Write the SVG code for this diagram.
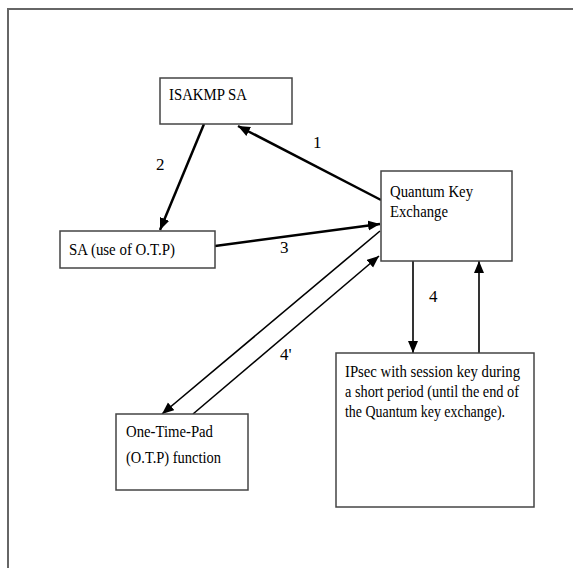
<svg xmlns="http://www.w3.org/2000/svg" width="573" height="568" viewBox="0 0 573 568">
<style>
.box{fill:#fff;stroke:#444;stroke-width:1.5}
.t{font-family:"Liberation Serif","Times New Roman",Times,"DejaVu Serif",serif;font-size:17px;fill:#000}
.c{stroke:#000;fill:none}
.thick{stroke-width:2.5}
.thin{stroke-width:1.6}
</style>
<defs>
<marker id="ah" markerUnits="userSpaceOnUse" markerWidth="13" markerHeight="11" refX="12" refY="5" orient="auto">
<path d="M0,0 L12,5 L0,10 z" fill="#000"/>
</marker>
</defs>
<rect width="573" height="568" fill="#fff"/>
<rect x="8" y="9" width="580" height="580" fill="none" stroke="#666" stroke-width="2"/>

<g id="connectors">
<line class="c thick" x1="381" y1="200" x2="238" y2="126" marker-end="url(#ah)"/>
<line class="c thick" x1="204" y1="124" x2="160" y2="230" marker-end="url(#ah)"/>
<line class="c thick" x1="215" y1="246" x2="380" y2="224" marker-end="url(#ah)"/>
<line class="c thin" x1="380" y1="231" x2="162" y2="414" marker-end="url(#ah)"/>
<line class="c thin" x1="193" y1="414" x2="379" y2="256" marker-end="url(#ah)"/>
<line class="c thin" x1="413" y1="261" x2="413" y2="353" marker-end="url(#ah)"/>
<line class="c thin" x1="479" y1="353" x2="479" y2="261" marker-end="url(#ah)"/>
<text class="t" x="313" y="148">1</text>
<text class="t" x="156" y="170">2</text>
<text class="t" x="280" y="253">3</text>
<text class="t" x="429" y="302">4</text>
<text class="t" x="280" y="360">4'</text>
</g>

<g id="isakmp">
<rect class="box" x="160" y="78" width="132" height="46"/>
<text class="t" x="169" y="100" textLength="78" lengthAdjust="spacingAndGlyphs">ISAKMP SA</text>
</g>

<g id="qke">
<rect class="box" x="381" y="171" width="131" height="90"/>
<text class="t" x="390" y="197" textLength="83" lengthAdjust="spacingAndGlyphs">Quantum Key</text>
<text class="t" x="390" y="217" textLength="58" lengthAdjust="spacingAndGlyphs">Exchange</text>
</g>

<g id="sa">
<rect class="box" x="60" y="231" width="155" height="37"/>
<text class="t" x="69" y="255" textLength="106" lengthAdjust="spacingAndGlyphs">SA (use of O.T.P)</text>
</g>

<g id="otp">
<rect class="box" x="116" y="414" width="132" height="76"/>
<text class="t" x="126" y="437" textLength="87" lengthAdjust="spacingAndGlyphs">One-Time-Pad</text>
<text class="t" x="126" y="463" textLength="95" lengthAdjust="spacingAndGlyphs">(O.T.P) function</text>
</g>

<g id="ipsec">
<rect class="box" x="336" y="353" width="198" height="154"/>
<text class="t" x="345" y="377" textLength="175" lengthAdjust="spacingAndGlyphs">IPsec with session key during</text>
<text class="t" x="345" y="397" textLength="174" lengthAdjust="spacingAndGlyphs">a short period (until the end of</text>
<text class="t" x="345" y="417" textLength="160" lengthAdjust="spacingAndGlyphs">the Quantum key exchange).</text>
</g>
</svg>
